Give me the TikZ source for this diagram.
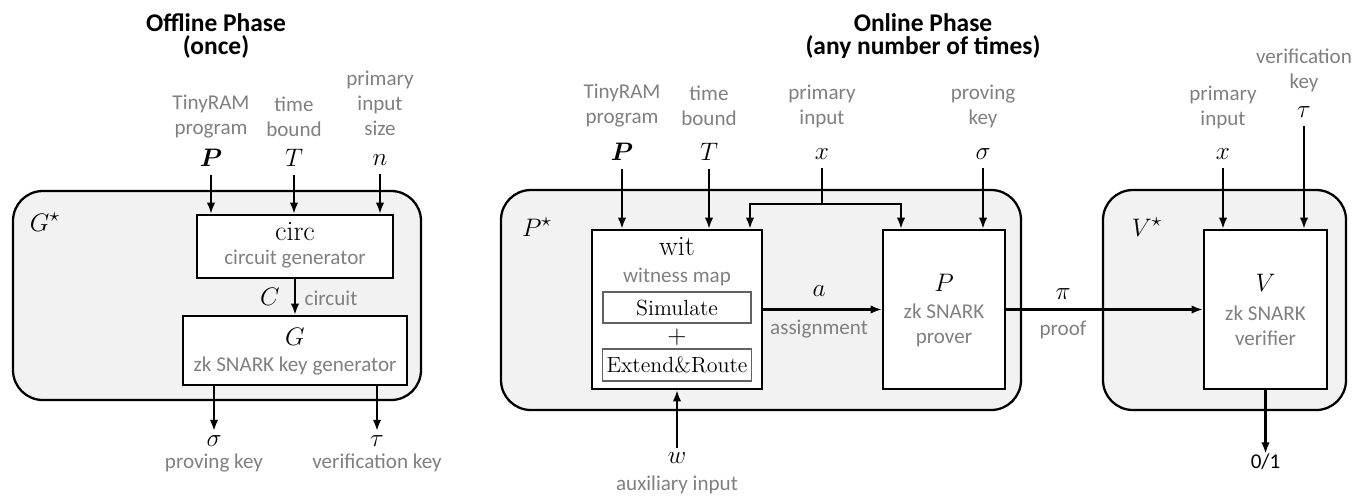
\documentclass[tikz,border=0pt]{standalone}
\usepackage{amsmath}
\usepackage{fontspec}
\setsansfont{Carlito}
\usetikzlibrary{arrows.meta,positioning}

\definecolor{labelgray}{RGB}{128,128,128}
\definecolor{phasefill}{RGB}{242,242,242}
\newcommand{\pxl}{0.02cm}

\tikzset{
  phase/.style={draw, line width=1.3pt, fill=phasefill, rounded corners=17pt, inner sep=0pt},
  blk/.style={draw, line width=1.1pt, fill=white, inner sep=0pt},
  subblk/.style={draw=black!62, line width=0.8pt, fill=white, inner sep=0pt},
  lbl/.style={font=\sffamily\fontsize{12}{14.2}\selectfont, text=labelgray, align=center, inner sep=0pt},
  sym/.style={font=\fontsize{15}{17}\selectfont, inner sep=0pt, outer sep=2.5pt},
  ser/.style={font=\fontsize{16}{18}\selectfont, inner sep=0pt},
  phasetitle/.style={font=\sffamily\bfseries\fontsize{14.5}{13.5}\selectfont, align=center, inner sep=0pt},
  arr/.style={-{Latex[length=6.5pt,width=4.8pt]}, line width=1.35pt},
  inarr/.style={arr, shorten <=2.5pt}
}

\begin{document}
\begin{tikzpicture}[x=0.02cm, y=-0.02cm]
    \useasboundingbox (0,0) rectangle (1368,495);

    % offline phase
    \node[phasetitle] (offtitle) at (216,36) {Offline Phase\\(once)};
    \node[phase, minimum width=408*\pxl, minimum height=209*\pxl] (Gstar) at (217,295.5) {};
    \node[sym] (Gstarname) at (45,222) {$G^{\star}$};

    \node[blk, minimum width=196*\pxl, minimum height=63*\pxl] (circ) at (295,246.5) {};
    \node[ser] (circname) at (295,232) {circ};
    \node[lbl] (circdesc) at (295,259) {circuit generator};

    \node[blk, minimum width=224*\pxl, minimum height=69*\pxl] (keygen) at (295,350.5) {};
    \node[sym] (keygenname) at (295,337) {$G$};
    \node[lbl] (keygendesc) at (295,366) {zk SNARK key generator};

    \node[lbl] (offPlbl) at (211,116.5) {TinyRAM\\program};
    \node[lbl] (offTlbl) at (294,116.5) {time\\bound};
    \node[lbl] (offnlbl) at (380,103.5) {primary\\input\\size};
    \node[sym] (offP) at (211,158) {$\boldsymbol{P}$};
    \node[sym] (offT) at (294,158) {$T$};
    \node[sym] (offn) at (380,160) {$n$};
    \foreach \i in {offP,offT,offn}
        \draw[inarr] (\i) -- (\i |- circ.north);

    \draw[arr] (circ) -- (keygen);
    \node[sym] (Csym) at (270,297) {$C$};
    \node[lbl] (Clbl) at (331,298) {circuit};

    \node[sym] (sigout) at (214,441) {$\sigma$};
    \node[lbl] (sigoutlbl) at (214,463) {proving key};
    \node[sym] (tauout) at (377,441) {$\tau$};
    \node[lbl] (tauoutlbl) at (377,463) {verification key};
    \draw[arr] (keygen.south -| sigout) -- (sigout);
    \draw[arr] (keygen.south -| tauout) -- (tauout);

    % online phase
    \node[phasetitle] (ontitle) at (923,36) {Online Phase\\(any number of times)};
    \node[phase, minimum width=520*\pxl, minimum height=220*\pxl] (Pstar) at (761,300) {};
    \node[phase, minimum width=243*\pxl, minimum height=220*\pxl] (Vstar) at (1224.5,300) {};
    \node[sym] (Pstarname) at (537,227) {$P^{\star}$};
    \node[sym] (Vstarname) at (1147,227) {$V^{\star}$};

    % witness map
    \node[blk, minimum width=170*\pxl, minimum height=159*\pxl] (wit) at (677,309.5) {};
    \node[ser] (witname) at (677,247) {wit};
    \node[lbl] (witdesc) at (677,277) {witness map};
    \node[subblk, minimum width=148*\pxl, minimum height=31*\pxl, font=\fontsize{12.5}{14}\selectfont] (simulate) at (677,307.5) {Simulate};
    \node[inner sep=0pt, font=\fontsize{15}{17}\selectfont] (plus) at (677,337) {$+$};
    \node[subblk, minimum width=149*\pxl, minimum height=32*\pxl, font=\fontsize{12.5}{14}\selectfont] (extroute) at (677,365) {Extend\&Route};

    % prover and verifier
    \node[blk, minimum width=122*\pxl, minimum height=159*\pxl] (prover) at (944,309.5) {};
    \node[sym] (provername) at (944,283) {$P$};
    \node[lbl] (proverdesc) at (944,325.5) {zk SNARK\\prover};
    \node[blk, minimum width=123*\pxl, minimum height=159*\pxl] (verifier) at (1265.5,309.5) {};
    \node[sym] (verifiername) at (1265.5,283) {$V$};
    \node[lbl] (verifierdesc) at (1265.5,325.5) {zk SNARK\\verifier};

    % online inputs
    \node[lbl] (onPlbl) at (622,106) {TinyRAM\\program};
    \node[lbl] (onTlbl) at (709,106) {time\\bound};
    \node[lbl] (onxlbl) at (822,106) {primary\\input};
    \node[lbl] (sigmalbl) at (983,106) {proving\\key};
    \node[lbl] (vxlbl) at (1223,107) {primary\\input};
    \node[lbl] (taulbl) at (1304,70.5) {verification\\key};
    \node[sym] (onP) at (622,152) {$\boldsymbol{P}$};
    \node[sym] (onT) at (709,152) {$T$};
    \node[sym] (onx) at (822,154) {$x$};
    \node[sym] (sigmain) at (983,154) {$\sigma$};
    \node[sym] (vx) at (1223,154) {$x$};
    \node[sym] (tauin) at (1304,112) {$\tau$};

    \foreach \i in {onP,onT}
        \draw[inarr] (\i) -- (\i |- wit.north);
    \draw[inarr] (sigmain) -- (sigmain |- prover.north);
    \draw[inarr] (vx) -- (vx |- verifier.north);
    \draw[inarr] (tauin) -- (tauin |- verifier.north);

    \coordinate (xsplit) at (822,204);
    \coordinate (xl) at (750,204);
    \coordinate (xr) at (901,204);
    \draw[line width=1.35pt, shorten <=2.5pt] (onx) -- (xsplit);
    \draw[arr] (xsplit) -- (xl) -- (xl |- wit.north);
    \draw[arr] (xsplit) -- (xr) -- (xr |- prover.north);

    % auxiliary input
    \node[sym] (auxw) at (677,458) {$w$};
    \node[lbl] (auxlbl) at (677,485) {auxiliary input};
    \draw[arr] (auxw) -- (wit);

    % assignment and proof
    \draw[arr] (wit) -- (prover);
    \node[sym] (asym) at (819,291) {$a$};
    \node[lbl] (albl) at (819,329) {assignment};
    \draw[arr] (prover) -- (verifier);
    \node[sym] (pisym) at (1063,294) {$\pi$};
    \node[lbl] (pilbl) at (1063,330) {proof};

    % decision
    \node[lbl, text=black] (decision) at (1265.5,462) {0/1};
    \draw[arr] (verifier) -- (decision);
\end{tikzpicture}
\end{document}
